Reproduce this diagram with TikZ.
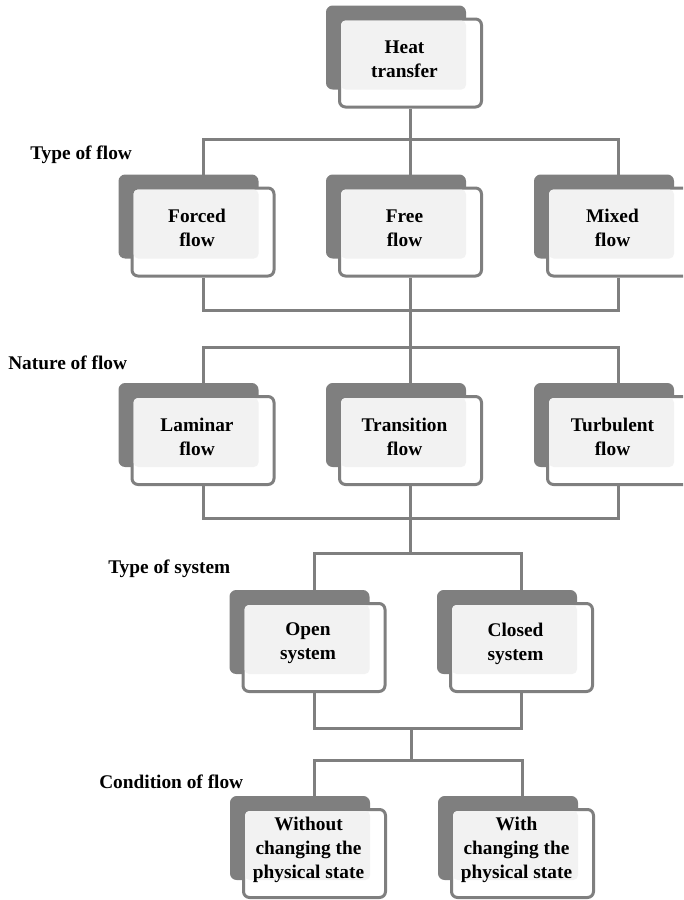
\documentclass[tikz,border=0pt]{standalone}
\usepackage{fontspec}
\setmainfont{Liberation Serif}
\usetikzlibrary{positioning}
\definecolor{boxgray}{HTML}{7F7F7F}
\definecolor{boxlight}{HTML}{F2F2F2}
\tikzstyle{backbox}=[rectangle,fill=boxgray,rounded corners=5pt,minimum width=105pt,minimum height=63pt,inner sep=0pt]
\tikzstyle{frontbox}=[rectangle,fill=white,draw=boxgray,line width=2.25pt,rounded corners=4.5pt,minimum width=106.5pt,minimum height=66pt,inner sep=0pt]
\tikzstyle{lightbox}=[rectangle,fill=boxlight,rounded corners=3.5pt,minimum width=93.75pt,minimum height=51.75pt,inner sep=0pt]
\tikzstyle{boxtext}=[align=center,inner sep=0pt,font=\fontsize{14.5pt}{18pt}\selectfont\bfseries]
\tikzstyle{level}=[anchor=west,inner sep=0pt,font=\fontsize{14.5pt}{18pt}\selectfont\bfseries]
\tikzstyle{link}=[draw=boxgray,line width=2.25pt]

\begin{document}
\begin{tikzpicture}[x=0.75pt,y=-0.75pt]
  \clip (0,0) rectangle (683,900);

    \foreach \x/\y/\name/\txt in {410.5/63/heat/{Heat\\transfer}, 203/232/forced/{Forced\\flow}, 410.5/232/free/{Free\\flow}, 618.5/232/mixed/{Mixed\\flow}, 203/440.5/laminar/{Laminar\\flow}, 410.5/440.5/transition/{Transition\\flow}, 618.5/440.5/turbulent/{Turbulent\\flow}, 314/647.5/open/{Open\\system}, 521.5/647.5/closed/{Closed\\system}, 314.5/853.5/without/{Without\\changing the\\physical state}, 522.5/853.5/with/{With\\changing the\\physical state}}
    {
        \node[backbox] at (\x-14.5,\y-15.5) {};
        \node[frontbox] (\name) at (\x,\y) {};
        \node[lightbox] at (\x-7,\y-8) {};
        \node[boxtext] at (\x-6,\y-4) {\txt};
    }

    \foreach \x/\y/\name/\txt in {30/155/typeflow/{Type of flow}, 8/363/natureflow/{Nature of flow}, 108/569/typesystem/{Type of system}, 99/782/conditionflow/{Condition of flow}}
        \node[level] (\name) at (\x,\y) {\txt};

%buses
  \coordinate (flowtop) at (410.5,139);
  \coordinate (flowbot) at (410.5,310);
  \coordinate (naturetop) at (410.5,347);
  \coordinate (naturebot) at (410.5,518);
  \coordinate (systemtop) at (410.5,553);
  \coordinate (systembot) at (411,728);
  \coordinate (conditiontop) at (411,760);

  \draw[link] (heat.south) -- (free.north);
  \draw[link] (forced.north) |- (flowtop) -| (mixed.north);
  \draw[link] (forced.south) |- (flowbot) -| (mixed.south);
  \draw[link] (free.south) -- (transition.north);
  \draw[link] (laminar.north) |- (naturetop) -| (turbulent.north);
  \draw[link] (laminar.south) |- (naturebot) -| (turbulent.south);
  \draw[link] (transition.south) -- (systemtop);
  \draw[link] (open.north) |- (systemtop) -| (closed.north);
  \draw[link] (open.south) |- (systembot) -| (closed.south);
  \draw[link] (systembot) -- (conditiontop);
  \draw[link] (without.north) |- (conditiontop) -| (with.north);

\end{tikzpicture}
\end{document}
